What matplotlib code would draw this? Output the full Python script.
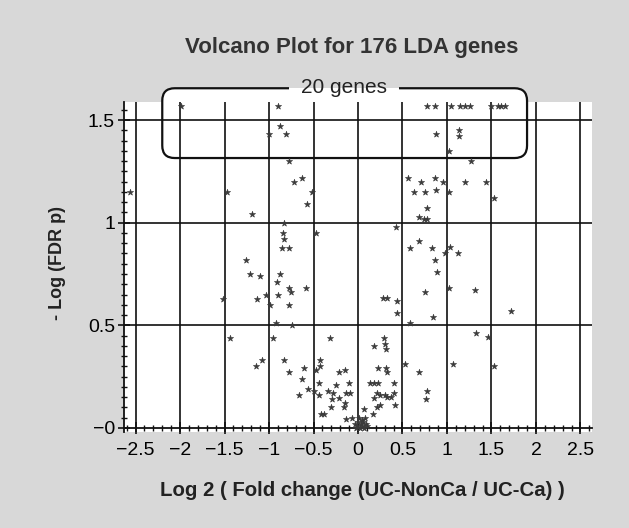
import matplotlib
matplotlib.use('Agg')
import matplotlib.pyplot as plt
from matplotlib.patches import FancyBboxPatch, Rectangle
from matplotlib.ticker import MultipleLocator, FixedLocator, FixedFormatter

plt.rcParams['font.family'] = ['Liberation Sans', 'DejaVu Sans']

# log2 fold change (UC-NonCa / UC-Ca) and -log(FDR p)
top_x = [-1.99, -0.90, 0.78, 0.87, 1.05, 1.15, 1.20, 1.26, 1.50, 1.57, 1.61, 1.65,
         -0.88, -0.81, -1.00, 0.88, 1.14, 1.14, 1.02]
top_y = [1.57, 1.57, 1.57, 1.57, 1.57, 1.57, 1.57, 1.57, 1.57, 1.57, 1.57, 1.57,
         1.47, 1.43, 1.43, 1.43, 1.45, 1.42, 1.35]

left_x = [-0.77, -2.56, -1.47, -1.19, -0.83, -0.84, -0.83, -0.85, -0.77, -1.26,
          -0.72, -0.63, -0.52, -0.57, -0.47,
          -1.21, -1.10, -0.88, -0.91, -1.52, -1.14, -1.03, -0.90, -0.77, -0.77,
          -0.99, -0.92, -1.44, -0.95, -1.15, -1.08, -0.83, -0.78, -0.75, -0.59,
          -0.74, -0.32]
left_y = [1.30, 1.15, 1.15, 1.04, 1.00, 0.95, 0.92, 0.875, 0.875, 0.82,
          1.20, 1.22, 1.15, 1.09, 0.95,
          0.75, 0.74, 0.75, 0.71, 0.63, 0.63, 0.65, 0.65, 0.68, 0.60,
          0.60, 0.51, 0.44, 0.44, 0.30, 0.33, 0.33, 0.27, 0.66, 0.68,
          0.50, 0.44]

right_x = [0.56, 0.71, 0.87, 0.63, 0.75, 0.88, 0.78, 0.69, 0.74, 0.77,
           0.43, 0.58, 0.69, 0.83, 0.87, 1.27, 0.95, 1.20, 1.44, 1.02,
           1.53, 1.03, 0.98, 1.12,
           1.31, 1.72, 1.33, 1.46, 0.89, 1.02, 0.84, 1.07, 1.53,
           0.28, 0.33, 0.44, 0.44, 0.75, 0.59]
right_y = [1.22, 1.20, 1.22, 1.15, 1.15, 1.16, 1.07, 1.03, 1.02, 1.02,
           0.98, 0.875, 0.91, 0.875, 0.82, 1.30, 1.20, 1.20, 1.20, 1.15,
           1.12, 0.88, 0.85, 0.85,
           0.67, 0.57, 0.46, 0.445, 0.76, 0.68, 0.54, 0.31, 0.30,
           0.635, 0.635, 0.62, 0.56, 0.66, 0.51]

low_x = [-0.61, -0.63, -0.66, -0.56, -0.49, -0.47, -0.43, -0.43, -0.44, -0.44,
         -0.21, -0.15, -0.25, -0.10, -0.34, -0.28, -0.14, -0.09, -0.29, -0.21,
         -0.15, -0.16, -0.30, -0.42, -0.38, -0.14, -0.07, 0.07, 0.17, 0.21,
         0.25, 0.18, 0.13, 0.18, 0.23, 0.23, 0.32, 0.33, 0.18, 0.29,
         0.30, 0.32, 0.21, 0.25, 0.30, 0.33, 0.37, 0.41, 0.41, 0.42,
         0.53, 0.69, 0.77, 0.76,
         -0.03, -0.01, 0.00, 0.02, 0.03, 0.04, 0.05, 0.06, 0.08, 0.09,
         0.10, 0.01, 0.07, -0.02]
low_y = [0.29, 0.24, 0.16, 0.19, 0.18, 0.28, 0.33, 0.30, 0.22, 0.16,
         0.27, 0.28, 0.21, 0.22, 0.18, 0.17, 0.17, 0.17, 0.14, 0.145,
         0.12, 0.10, 0.10, 0.07, 0.07, 0.045, 0.05, 0.09, 0.07, 0.10,
         0.11, 0.145, 0.22, 0.22, 0.22, 0.29, 0.29, 0.27, 0.40, 0.44,
         0.41, 0.385, 0.17, 0.16, 0.16, 0.15, 0.15, 0.22, 0.17, 0.11,
         0.31, 0.27, 0.18, 0.14,
         0.02, 0.01, 0.03, 0.00, 0.02, 0.04, 0.01, 0.03, 0.05, 0.02,
         0.01, 0.05, 0.00, 0.00]

x_ticks = [-2.5, -2, -1.5, -1, -0.5, 0, 0.5, 1, 1.5, 2, 2.5]
x_labels = ['\u22122.5', '\u22122', '\u22121.5', '\u22121', '\u22120.5', '0',
            '0.5', '1', '1.5', '2', '2.5']
y_ticks = [0, 0.5, 1, 1.5]
y_labels = ['\u22120', '0.5', '1', '1.5']

bg = '#d8d8d8'
fig = plt.figure(figsize=(6.29, 5.28), dpi=100, facecolor=bg)
ax = fig.add_axes([124 / 629, 1 - 432 / 528, 468 / 629, 330 / 528])
ax.set_facecolor('white')

xs = top_x + left_x + right_x + low_x
ys = top_y + left_y + right_y + low_y
ax.scatter(xs, ys, marker='*', s=22, color='#3a3a3a', linewidths=0.4, zorder=3, clip_on=False)

ax.set_xlim(-2.63, 2.63)
ax.set_ylim(-0.02, 1.588)

ax.xaxis.set_major_locator(FixedLocator(x_ticks))
ax.xaxis.set_major_formatter(FixedFormatter(x_labels))
ax.xaxis.set_minor_locator(MultipleLocator(0.1))
ax.yaxis.set_major_locator(FixedLocator(y_ticks))
ax.yaxis.set_major_formatter(FixedFormatter(y_labels))
ax.yaxis.set_minor_locator(MultipleLocator(0.05))

ax.tick_params(which='major', direction='inout', length=9, width=1.2, labelsize=14, color='#111')
ax.tick_params(which='minor', direction='inout', length=5, width=1, color='#111')
ax.tick_params(axis='x', pad=6)
ax.tick_params(axis='y', pad=2)

ax.spines['top'].set_visible(False)
ax.spines['right'].set_visible(False)
ax.spines['bottom'].set_position(('data', 0))
for s in ['left', 'bottom']:
    ax.spines[s].set_linewidth(1.3)
    ax.spines[s].set_color('#111')

# grid lines
for v in x_ticks:
    ax.axvline(v, color='#111', lw=1.2, zorder=1)
for h in [0.5, 1, 1.5]:
    ax.axhline(h, color='#111', lw=1.2, zorder=1)

# rounded box around the top genes
box_kw = dict(boxstyle='round,pad=0,rounding_size=0.14', mutation_aspect=0.4325, clip_on=False)
ax.add_patch(FancyBboxPatch((-2.20, 1.315), 4.10, 0.34, facecolor='white',
                            edgecolor='none', zorder=0.5, **box_kw))
ax.add_patch(FancyBboxPatch((-2.20, 1.315), 4.10, 0.34, facecolor='none',
                            edgecolor='#111', lw=1.6, zorder=2, **box_kw))
# gap in the box line behind the label
ax.add_patch(Rectangle((-0.78, 1.655), 1.24, 0.03, facecolor=bg, edgecolor='none',
                       zorder=2.5, clip_on=False))
ax.add_patch(Rectangle((-0.78, 1.63), 1.24, 0.025, facecolor='white', edgecolor='none',
                       zorder=2.5, clip_on=False))
ax.text(-0.16, 1.66, '20 genes', ha='center', va='center', fontsize=15,
        color='#222', zorder=4, clip_on=False)

fig.text(352 / 629, 1 - 48 / 528, 'Volcano Plot for 176 LDA genes', ha='center', va='center',
         fontsize=16, fontweight='bold', color='#333')
fig.text(362 / 629, 1 - 490 / 528, 'Log 2 ( Fold change (UC-NonCa / UC-Ca) )', ha='center',
         va='center', fontsize=14.7, fontweight='bold', color='#222')
fig.text(57 / 629, 1 - 263 / 528, '- Log (FDR p)', ha='center', va='center', rotation=90,
         fontsize=13, fontweight='bold', color='#222')

fig.savefig('out.png', dpi=100, facecolor=fig.get_facecolor())
